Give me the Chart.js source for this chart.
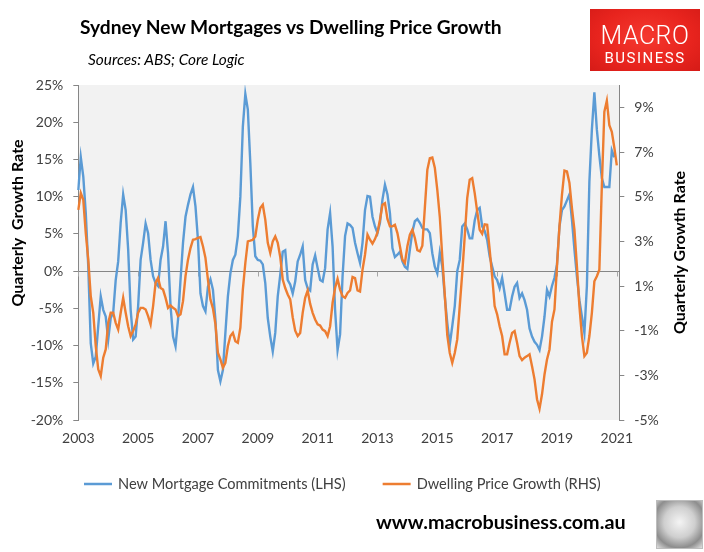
<!DOCTYPE html>
<html>
<head>
<meta charset="utf-8">
<script src="https://cdn.jsdelivr.net/npm/chart.js@4.4.0/dist/chart.umd.min.js"></script>
<style>
html,body{margin:0;padding:0;background:#fff;}
#wrap{position:relative;width:704px;height:552px;overflow:hidden;font-family:Lato,"Open Sans",sans-serif;}
#c{position:absolute;left:0;top:0;}
.t{position:absolute;white-space:nowrap;line-height:1;}
#title{left:80px;top:17px;font-size:19.2px;font-weight:700;color:#000;}
#sub{left:88px;top:52px;font-size:15.4px;font-style:italic;color:#000;}
#logo{position:absolute;left:590px;top:9px;width:110px;height:62px;background:radial-gradient(ellipse at 50% 45%,#f5392f 0%,#e8241e 60%,#d51b17 100%);color:#fff;text-align:center;font-family:Roboto,"Liberation Sans",sans-serif;}
#logo .m{position:absolute;left:0;right:0;top:14px;font-size:25px;font-weight:300;line-height:1;letter-spacing:0.5px;}
#logo .b{position:absolute;left:0;right:0;top:42px;font-size:15px;line-height:1;letter-spacing:1.5px;}
#url{left:376px;top:512px;font-size:19.8px;font-weight:700;color:#000;}
#wolf{position:absolute;left:656px;top:500px;width:45px;height:47px;border:1px solid #bdbdbd;background:radial-gradient(circle at 50% 45%,#f4f4f4 0%,#cfcfcf 45%,#8d8d8d 75%,#e0e0e0 100%);}
</style>
</head>
<body>
<div id="wrap">
<canvas id="c" width="704" height="552"></canvas>
<div class="t" id="title">Sydney New Mortgages vs Dwelling Price Growth</div>
<div class="t" id="sub">Sources: ABS; Core Logic</div>
<div id="logo"><div class="m">MACRO</div><div class="b">BUSINESS</div></div>
<div class="t" id="url">www.macrobusiness.com.au</div>
<div id="wolf"></div>
</div>
<script>
// ---- categories: monthly, Jan 2003 .. Feb 2021 ----
const startYear = 2003;
const monthCount = 218;
const months = [];
for (let i = 0; i < monthCount; i++) {
  const y = startYear + Math.floor(i / 12);
  const mo = (i % 12) + 1;
  months.push(y + '-' + String(mo).padStart(2, '0'));
}
const yearTicks = ['2003','2005','2007','2009','2011','2013','2015','2017','2019','2021'];
const leftTicks = [-20,-15,-10,-5,0,5,10,15,20,25];
const rightTicks = [-5,-3,-1,1,3,5,7,9];

// New Mortgage Commitments, quarterly growth (%), LHS
const mortgages = [
10.9,15.3,12.7,7.8,0.6,-9.7,-12.4,-11.5,-7.4,-3.4,-5.2,-6.1,
-9.2,-6.3,-5.6,-1.2,1.3,6.5,10.3,8.2,2.9,-5.2,-9.2,-8.8,
-4.7,1.5,3.8,6.4,5.1,1.5,-0.7,-1.6,-2.0,1.5,3.3,6.7,
2.4,-4.7,-8.8,-10.1,-6.5,-1.2,3.8,7.3,8.9,10.3,11.3,8.7,
4.2,-3.0,-4.7,-5.4,-2.1,-1.1,-2.5,-6.5,-13.3,-14.8,-13.3,-8.3,
-3.4,-0.3,1.5,2.2,4.7,10.0,19.4,23.8,21.7,14.5,6.0,2.0,
1.5,1.4,0.9,-1.6,-6.3,-8.8,-10.8,-8.3,-3.4,-0.5,2.6,2.8,
-1.2,-1.8,-3.0,-1.4,1.3,2.2,3.3,-1.2,-2.3,-2.6,0.9,2.1,
0.4,-1.2,-1.4,0.4,5.6,7.8,3.3,-5.2,-10.6,-8.5,-0.7,4.7,
6.4,6.2,5.8,3.8,2.4,1.1,3.8,8.2,10.1,10.0,7.3,6.0,
5.1,6.5,9.6,11.6,10.3,7.8,3.1,1.9,2.2,2.6,1.3,0.6,
0.3,2.9,5.3,6.7,7.0,6.5,5.8,5.6,5.6,5.1,2.4,0.6,
-0.3,2.5,0.6,-3.4,-7.0,-9.9,-7.4,-4.7,0.0,1.5,6.0,6.4,
5.6,4.4,4.4,6.8,8.2,8.5,6.0,5.4,4.2,2.0,0.6,-0.7,
-1.2,-2.3,-0.9,-3.0,-5.2,-5.2,-3.4,-2.1,-1.6,-3.6,-3.0,-3.9,
-5.2,-7.7,-8.8,-9.5,-9.9,-10.6,-8.8,-6.1,-2.5,-3.4,-2.0,-0.9,
0.9,6.0,8.2,8.7,9.5,10.3,6.9,2.9,-0.7,-3.9,-6.1,-8.3,
-2.0,12.0,19.0,24.0,19.0,15.5,12.5,11.3,11.3,11.3,16.2,15.3
];

// Dwelling Price Growth, quarterly (%), RHS
const prices = [
4.41,5.16,4.86,3.37,2.18,0.54,-0.20,-1.69,-2.73,-3.03,-2.21,-1.84,
-0.65,-0.20,-0.20,-0.65,-0.95,-0.20,0.47,-0.20,-0.80,-1.24,-1.02,-0.72,
-0.20,0.02,0.02,-0.05,-0.35,-0.72,0.10,1.14,1.36,0.91,0.84,0.47,
0.02,0.13,0.02,-0.05,-0.35,-0.27,0.32,1.44,2.18,2.70,3.07,3.10,
3.15,3.19,2.78,2.26,1.29,0.39,0.0,-0.70,-1.99,-2.29,-2.66,-2.44,
-1.69,-1.24,-1.10,-1.47,-1.54,-0.87,0.84,2.03,3.00,3.03,3.07,3.22,
3.97,4.49,4.64,3.97,2.93,2.48,3.00,3.22,2.93,2.30,1.29,0.91,
0.62,0.40,-0.40,-1.00,-1.24,-1.10,-0.20,0.47,0.80,0.20,-0.20,-0.50,
-0.72,-0.77,-0.95,-1.02,-1.24,-0.80,0.25,0.91,1.32,0.84,0.54,0.47,
0.69,0.80,1.40,1.35,0.80,0.75,1.73,2.40,3.30,3.07,2.90,3.10,
3.40,3.97,4.64,4.71,4.00,3.67,3.67,3.74,3.37,2.78,2.18,2.03,
2.78,3.30,3.52,3.15,2.60,2.55,2.80,4.50,6.20,6.72,6.75,6.30,
5.30,4.10,2.30,0.60,-1.20,-2.00,-2.44,-2.00,-1.39,0.10,1.58,3.22,
4.94,5.76,5.83,5.16,4.34,3.52,3.34,3.76,3.74,2.63,1.44,0.10,
-0.27,-0.80,-1.24,-2.06,-2.06,-1.54,-1.10,-1.02,-1.54,-2.14,-2.32,-2.21,
-2.14,-2.06,-2.59,-3.18,-4.07,-4.49,-3.85,-2.96,-2.29,-1.84,-0.60,-0.05,
1.88,3.67,5.08,6.17,6.13,5.61,4.49,3.52,1.88,0.10,-1.24,-2.14,
-1.99,-1.24,-0.20,1.21,1.44,1.73,5.50,8.80,9.30,8.20,7.90,7.20,
6.40
];

const seriesNames = ['New Mortgage Commitments (LHS)', 'Dwelling Price Growth (RHS)'];
const seriesColors = ['#5b9bd5', '#ed7d31'];
const leftTitle = 'Quarterly  Growth Rate';
const rightTitle = 'Quarterly Growth Rate';

const FONT = 'Lato, "Open Sans", sans-serif';
const AXIS_GREY = '#868686';
const LABEL_COLOR = '#404040';

const decor = {
  id: 'decor',
  beforeDraw(chart) {
    const {ctx, chartArea: a} = chart;
    ctx.save();
    ctx.fillStyle = '#f2f2f2';
    ctx.fillRect(a.left, a.top, a.right - a.left, a.bottom - a.top);
    ctx.restore();
  },
  beforeDatasetsDraw(chart) {
    const {ctx, chartArea: a, scales} = chart;
    const y0 = Math.round(scales.y.getPixelForValue(0)) + 0.5;
    ctx.save();
    ctx.strokeStyle = AXIS_GREY;
    ctx.lineWidth = 1;
    ctx.beginPath();
    ctx.moveTo(a.left, y0);
    ctx.lineTo(a.right, y0);
    ctx.stroke();
    ctx.strokeStyle = '#a6a6a6';
    ctx.beginPath();
    months.forEach((m, i) => {
      if (m.endsWith('-01') && yearTicks.includes(m.slice(0, 4))) {
        const x = Math.round(scales.x.getPixelForValue(i)) + 0.5;
        ctx.moveTo(x, y0);
        ctx.lineTo(x, y0 + 5);
      }
    });
    ctx.stroke();
    ctx.restore();
  },
  afterDraw(chart) {
    const {ctx, chartArea: a} = chart;
    ctx.save();
    // axis titles
    ctx.fillStyle = '#000';
    ctx.font = 'bold 16px ' + FONT;
    ctx.textAlign = 'center';
    ctx.textBaseline = 'middle';
    ctx.save();
    ctx.translate(18, 223);
    ctx.rotate(-Math.PI / 2);
    ctx.fillText(leftTitle, 0, 0);
    ctx.restore();
    ctx.save();
    ctx.translate(680, (a.top + a.bottom) / 2);
    ctx.rotate(-Math.PI / 2);
    ctx.fillText(rightTitle, 0, 0);
    ctx.restore();
    // legend
    ctx.font = '14.6px ' + FONT;
    ctx.textAlign = 'left';
    ctx.fillStyle = LABEL_COLOR;
    const ly = 484;
    let x = 84;
    chart.data.datasets.slice().sort((p, q) => p.legendIndex - q.legendIndex).forEach(ds => {
      ctx.strokeStyle = ds.borderColor;
      ctx.lineWidth = 2.5;
      ctx.beginPath();
      ctx.moveTo(x, ly);
      ctx.lineTo(x + 28, ly);
      ctx.stroke();
      ctx.fillText(ds.label, x + 34, ly);
      x += 34 + ctx.measureText(ds.label).width + 37;
    });
    ctx.restore();
  }
};

new Chart(document.getElementById('c'), {
  type: 'line',
  data: {
    labels: months,
    datasets: [
      {
        label: seriesNames[1], legendIndex: 1, data: prices, yAxisID: 'y1', order: 0,
        borderColor: seriesColors[1], borderWidth: 2.4, pointRadius: 0, tension: 0, fill: false
      },
      {
        label: seriesNames[0], legendIndex: 0, data: mortgages, yAxisID: 'y', order: 1,
        borderColor: seriesColors[0], borderWidth: 2.4, pointRadius: 0, tension: 0, fill: false
      }
    ]
  },
  options: {
    responsive: false,
    animation: false,
    layout: {padding: {top: 85, bottom: 102, left: 0, right: 0}},
    plugins: {legend: {display: false}, tooltip: {enabled: false}},
    scales: {
      x: {
        type: 'category',
        offset: false,
        grid: {display: false, drawTicks: false},
        border: {display: false},
        ticks: {
          autoSkip: false, maxRotation: 0, minRotation: 0, padding: 10,
          color: LABEL_COLOR, font: {family: FONT, size: 14},
          callback: function (value) { return months[value].slice(0, 4); }
        },
        afterBuildTicks: function (scale) {
          scale.ticks = scale.ticks.filter(t => {
            const m = months[t.value];
            return m.endsWith('-01') && yearTicks.includes(m.slice(0, 4));
          });
        },
        afterFit: function (scale) { scale.height = 30; }
      },
      y: {
        type: 'linear', position: 'left', min: -20, max: 25,
        grid: {drawOnChartArea: false, drawTicks: true, tickLength: 5, color: AXIS_GREY},
        border: {display: true, color: AXIS_GREY, width: 1},
        ticks: {
          padding: 10, color: LABEL_COLOR, font: {family: FONT, size: 14},
          callback: v => v + '%'
        },
        afterBuildTicks: function (scale) { scale.ticks = leftTicks.map(v => ({value: v})); },
        afterFit: function (scale) { scale.width = 78.3; }
      },
      y1: {
        type: 'linear', position: 'right', min: -5, max: 10,
        grid: {drawOnChartArea: false, drawTicks: true, tickLength: 5, color: AXIS_GREY},
        border: {display: true, color: AXIS_GREY, width: 1},
        ticks: {
          padding: 10, color: LABEL_COLOR, font: {family: FONT, size: 14},
          callback: v => v + '%'
        },
        afterBuildTicks: function (scale) { scale.ticks = rightTicks.map(v => ({value: v})); },
        afterFit: function (scale) { scale.width = 704 - 619.3; }
      }
    }
  },
  plugins: [decor]
});
</script>
</body>
</html>
